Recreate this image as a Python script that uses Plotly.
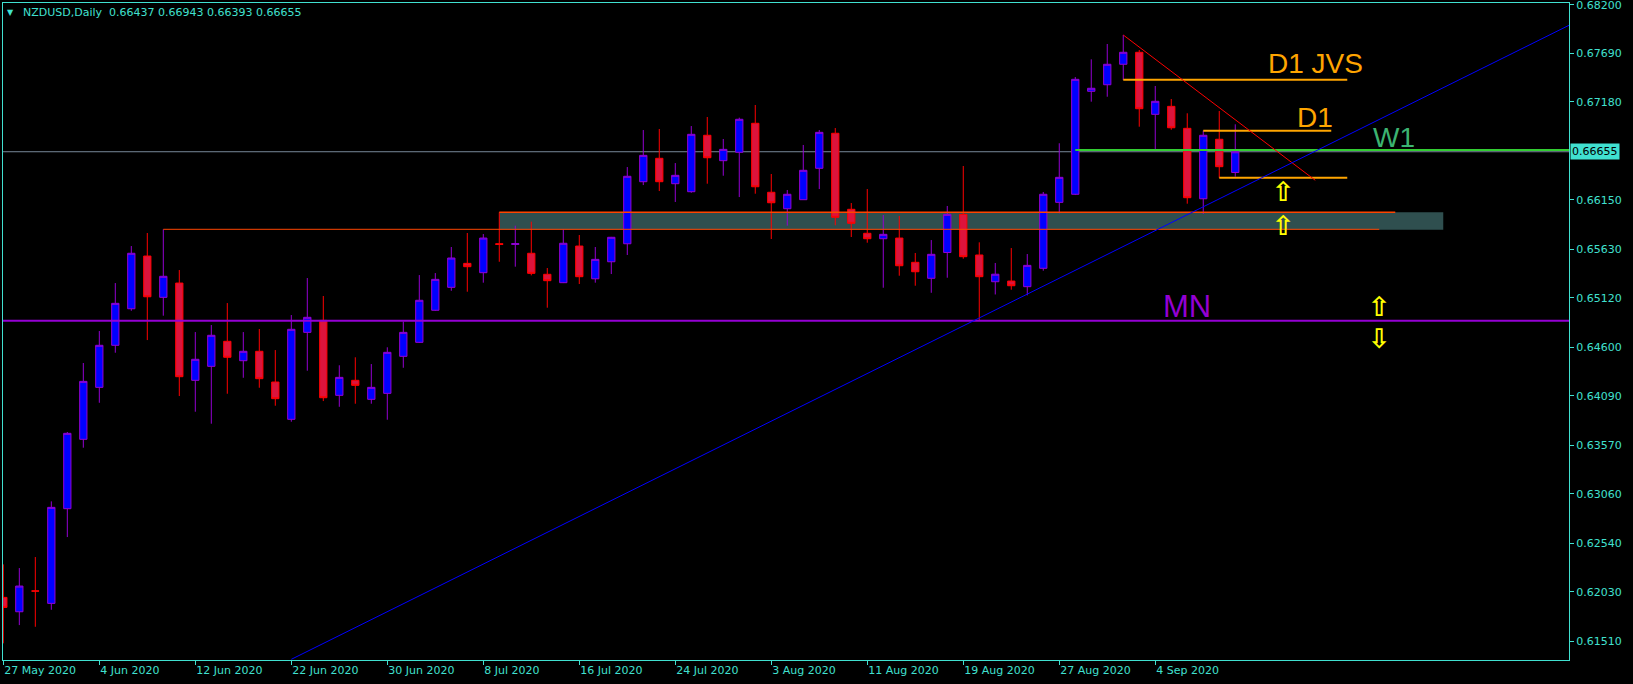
import plotly.graph_objects as go
import pandas as pd

# ---------------- data ----------------
dates = pd.bdate_range("2020-05-27", periods=78)
date_strs = [d.strftime("%Y-%m-%d") for d in dates]

opens = [0.61972, 0.61821, 0.62040, 0.61909, 0.62904, 0.63633, 0.64179, 0.64621, 0.65005, 0.65559,
         0.65125, 0.65275, 0.64253, 0.64400, 0.64663, 0.64459, 0.64558, 0.64235, 0.63843, 0.64757,
         0.64883, 0.64095, 0.64253, 0.64053, 0.64116, 0.64505, 0.64652, 0.64989, 0.65230, 0.65482,
         0.65384, 0.65689, 0.65681, 0.65588, 0.65367, 0.65279, 0.65664, 0.65320, 0.65499, 0.65688,
         0.66340, 0.66586, 0.66319, 0.66235, 0.66828, 0.66561, 0.66649, 0.66954, 0.66229, 0.66056,
         0.66151, 0.66481, 0.66849, 0.66050, 0.65798, 0.65741, 0.65748, 0.65493, 0.65325, 0.65596,
         0.65997, 0.65570, 0.65289, 0.65296, 0.65237, 0.65430, 0.66123, 0.66208, 0.67290, 0.67359,
         0.67574, 0.67700, 0.67048, 0.67132, 0.66901, 0.66161, 0.66786, 0.66437]
highs = [0.62319, 0.62280, 0.62396, 0.62981, 0.63710, 0.64435, 0.64771, 0.65275, 0.65664, 0.65801,
         0.65840, 0.65412, 0.64760, 0.64834, 0.65065, 0.64760, 0.64792, 0.64571, 0.64939, 0.65328,
         0.65139, 0.64411, 0.64495, 0.64424, 0.64600, 0.64871, 0.65359, 0.65380, 0.65654, 0.65801,
         0.65790, 0.66018, 0.65878, 0.65920, 0.65433, 0.65840, 0.65780, 0.65654, 0.65760, 0.66494,
         0.66883, 0.66894, 0.66536, 0.66925, 0.67020, 0.66789, 0.67013, 0.67146, 0.66421, 0.66253,
         0.66726, 0.66883, 0.66904, 0.66116, 0.66263, 0.65990, 0.65980, 0.65591, 0.65727, 0.66085,
         0.66505, 0.65703, 0.65486, 0.65643, 0.65580, 0.66232, 0.66744, 0.67440, 0.67626, 0.67787,
         0.67882, 0.67724, 0.67346, 0.67209, 0.67059, 0.66876, 0.67083, 0.66943]
lows = [0.61489, 0.61681, 0.61663, 0.61842, 0.62606, 0.63545, 0.64017, 0.64543, 0.64984, 0.64676,
        0.64932, 0.64088, 0.63923, 0.63797, 0.64112, 0.64280, 0.64175, 0.63986, 0.63818, 0.64354,
        0.64035, 0.63975, 0.64007, 0.64007, 0.63839, 0.64385, 0.64645, 0.64982, 0.65194, 0.65184,
        0.65279, 0.65499, 0.65447, 0.65356, 0.65016, 0.65275, 0.65265, 0.65279, 0.65370, 0.65570,
        0.66305, 0.66242, 0.66127, 0.66224, 0.66319, 0.66403, 0.66179, 0.66214, 0.65738, 0.65878,
        0.66151, 0.66263, 0.65882, 0.65759, 0.65699, 0.65226, 0.65352, 0.65247, 0.65173, 0.65331,
        0.65531, 0.64879, 0.65155, 0.65205, 0.65146, 0.65405, 0.66008, 0.66200, 0.67181, 0.67233,
        0.67409, 0.66918, 0.66684, 0.66886, 0.66109, 0.66001, 0.66382, 0.66393]
closes = [0.61867, 0.62091, 0.62038, 0.62918, 0.63696, 0.64242, 0.64621, 0.65062, 0.65588, 0.65131,
          0.65346, 0.64291, 0.64474, 0.64726, 0.64495, 0.64558, 0.64270, 0.64060, 0.64789, 0.64915,
          0.64070, 0.64284, 0.64200, 0.64179, 0.64547, 0.64757, 0.65094, 0.65314, 0.65538, 0.65447,
          0.65748, 0.65681, 0.65689, 0.65377, 0.65300, 0.65693, 0.65342, 0.65524, 0.65756, 0.66397,
          0.66617, 0.66340, 0.66407, 0.66838, 0.66592, 0.66680, 0.66996, 0.66287, 0.66119, 0.66208,
          0.66460, 0.66859, 0.65966, 0.65903, 0.65741, 0.65787, 0.65457, 0.65394, 0.65577, 0.65997,
          0.65552, 0.65342, 0.65368, 0.65247, 0.65461, 0.66208, 0.66386, 0.67416, 0.67322, 0.67574,
          0.67700, 0.67107, 0.67185, 0.66907, 0.66172, 0.66828, 0.66498, 0.66655]

tick_dates = ["2020-05-27", "2020-06-04", "2020-06-12", "2020-06-22", "2020-06-30", "2020-07-08",
              "2020-07-16", "2020-07-24", "2020-08-03", "2020-08-11", "2020-08-19", "2020-08-27",
              "2020-09-04"]
tick_labels = ["27 May 2020", "4 Jun 2020", "12 Jun 2020", "22 Jun 2020", "30 Jun 2020", "8 Jul 2020",
               "16 Jul 2020", "24 Jul 2020", "3 Aug 2020", "11 Aug 2020", "19 Aug 2020", "27 Aug 2020",
               "4 Sep 2020"]
price_ticks = [0.68200, 0.67690, 0.67180, 0.66150, 0.65630, 0.65120, 0.64600,
               0.64090, 0.63570, 0.63060, 0.62540, 0.62030, 0.61510]

# levels / drawn objects (bar index, price)
bid_price = 0.66655
mn_level = 0.64879
w1_level = 0.66673
w1_start = 67
d1_jvs_level = 0.67412
d1_jvs_span = [70, 84]
d1_upper_level = 0.66876
d1_upper_span = [75, 83]
d1_lower_level = 0.66382
d1_lower_span = [76, 84]
support_level = 0.65840
support_span = [10, 86]
zone_prices = [0.65836, 0.66018]
zone_span = [31, 90]
zone_top_span = [31, 87]
red_trend_x = [70, 82]
red_trend_y = [0.67882, 0.66355]
blue_trend_x = [18, 97.9]
blue_trend_y = [0.61321, 0.67987]
up_arrows_x = [80, 80, 86]
up_arrows_y = [0.66239, 0.65880, 0.65031]
down_arrows_x = [86]
down_arrows_y = [0.64703]
label_texts = ["D1 JVS", "D1", "W1", "MN"]
label_x = [82.0, 82.0, 86.9, 74.0]
label_y = [0.67580, 0.67020, 0.66802, 0.65028]
label_colors = ["#FFA500", "#FFA500", "#3CB371", "#9400D3"]
label_sizes = [28, 28, 28, 31]

x_range = [-0.02, 97.86]
y_range = [0.61314, 0.68218]

TURQ = "#40E0D0"
FONT = "DejaVu Sans"

x = list(range(len(date_strs)))
tick_pos = [date_strs.index(d) for d in tick_dates]

fig = go.Figure()
fig.add_trace(go.Candlestick(
    x=x, open=opens, high=highs, low=lows, close=closes,
    increasing=dict(line=dict(color="#9400D3", width=1), fillcolor="#0000FF"),
    decreasing=dict(line=dict(color="#FF0000", width=1), fillcolor="#DC143C"),
    hoverinfo="skip", showlegend=False,
))

shapes = []
# zone rectangle (background)
shapes.append(dict(type="rect", xref="x", yref="y", x0=zone_span[0], x1=zone_span[1],
                   y0=zone_prices[0], y1=zone_prices[1], fillcolor="#2F4F4F",
                   line=dict(width=0), layer="below"))
# bid line
shapes.append(dict(type="line", xref="paper", yref="y", x0=0, x1=1, y0=bid_price, y1=bid_price,
                   line=dict(color="#778899", width=1), layer="below"))
# support lines
shapes.append(dict(type="line", xref="x", yref="y", x0=support_span[0], x1=support_span[1],
                   y0=support_level, y1=support_level, line=dict(color="#FF4500", width=1), layer="above"))
shapes.append(dict(type="line", xref="x", yref="y", x0=zone_top_span[0], x1=zone_top_span[1],
                   y0=zone_prices[1], y1=zone_prices[1], line=dict(color="#FF4500", width=1.5), layer="above"))
# MN
shapes.append(dict(type="line", xref="paper", yref="y", x0=0, x1=1, y0=mn_level, y1=mn_level,
                   line=dict(color="#9400D3", width=2), layer="above"))
# W1
shapes.append(dict(type="line", xref="x", yref="y", x0=w1_start, x1=x_range[1], y0=w1_level, y1=w1_level,
                   line=dict(color="#32CD32", width=2), layer="above"))
# D1 lines
for span, lvl in [(d1_jvs_span, d1_jvs_level), (d1_upper_span, d1_upper_level), (d1_lower_span, d1_lower_level)]:
    shapes.append(dict(type="line", xref="x", yref="y", x0=span[0], x1=span[1], y0=lvl, y1=lvl,
                       line=dict(color="#FFA500", width=2), layer="above"))
# trend lines
shapes.append(dict(type="line", xref="x", yref="y", x0=red_trend_x[0], x1=red_trend_x[1],
                   y0=red_trend_y[0], y1=red_trend_y[1], line=dict(color="#FF0000", width=1), layer="above"))
shapes.append(dict(type="line", xref="x", yref="y", x0=blue_trend_x[0], x1=blue_trend_x[1],
                   y0=blue_trend_y[0], y1=blue_trend_y[1], line=dict(color="#0000FF", width=1), layer="above"))

annotations = []
for t, lx, ly, c, s in zip(label_texts, label_x, label_y, label_colors, label_sizes):
    annotations.append(dict(text=t, x=lx, y=ly, xref="x", yref="y", showarrow=False,
                            xanchor="center", yanchor="middle",
                            font=dict(family="Liberation Sans", size=s, color=c)))
for ax, ay in zip(up_arrows_x, up_arrows_y):
    annotations.append(dict(text="<b>\u21e7</b>", x=ax, y=ay, xref="x", yref="y", showarrow=False,
                            xanchor="center", yanchor="middle", height=24, width=20, valign="middle",
                            font=dict(family=FONT, size=27, color="#FFFF00")))
for ax, ay in zip(down_arrows_x, down_arrows_y):
    annotations.append(dict(text="<b>\u21e9</b>", x=ax, y=ay, xref="x", yref="y", showarrow=False,
                            xanchor="center", yanchor="middle", height=24, width=20, valign="middle",
                            font=dict(family=FONT, size=27, color="#FFFF00")))
# header
annotations.append(dict(text="\u25bc", x=(10.5 - 3) / 1566, y=(660 - 12.5) / 657, xref="paper", yref="paper",
                        showarrow=False, xanchor="center", yanchor="middle",
                        font=dict(family=FONT, size=8, color=TURQ)))
annotations.append(dict(text="NZDUSD,Daily  %.5f %.5f %.5f %.5f" % (opens[-1], highs[-1], lows[-1], closes[-1]),
                        x=(21 - 3) / 1566, y=(660 - 12.3) / 657, xref="paper", yref="paper",
                        showarrow=False, xanchor="left", yanchor="middle",
                        font=dict(family=FONT, size=11, color=TURQ)))
# bid price label
annotations.append(dict(text="%.5f" % bid_price, x=1, y=bid_price, xref="paper", yref="y",
                        showarrow=False, xanchor="left", yanchor="middle", xshift=1,
                        bgcolor=TURQ, borderpad=1,
                        font=dict(family=FONT, size=11, color="#000000")))

fig.update_layout(
    width=1633, height=684, autosize=False,
    margin=dict(l=3, r=64, t=3, b=24, pad=0, autoexpand=False),
    paper_bgcolor="#000000", plot_bgcolor="#000000",
    boxgap=0.35,
    shapes=shapes, annotations=annotations,
    showlegend=False,
    xaxis=dict(range=x_range, rangeslider=dict(visible=False), showgrid=False, zeroline=False,
               showline=True, linecolor=TURQ, linewidth=1, mirror=True, automargin=False,
               ticks="outside", ticklen=4, tickcolor=TURQ, tickwidth=1,
               tickvals=tick_pos, ticktext=tick_labels, ticklabelposition="outside right",
               ticklabeloverflow="allow",
               tickfont=dict(family=FONT, size=11, color=TURQ)),
    yaxis=dict(range=y_range, side="right", showgrid=False, zeroline=False,
               showline=True, linecolor=TURQ, linewidth=1, mirror=True, automargin=False,
               ticks="outside", ticklen=4, tickcolor=TURQ, tickwidth=1,
               tickvals=price_ticks, ticktext=["%.5f" % v for v in price_ticks],
               ticklabeloverflow="allow",
               tickfont=dict(family=FONT, size=11, color=TURQ)),
)

fig.write_html("out.html", config={"displayModeBar": False},
               post_script="document.body.style.margin='0';")
